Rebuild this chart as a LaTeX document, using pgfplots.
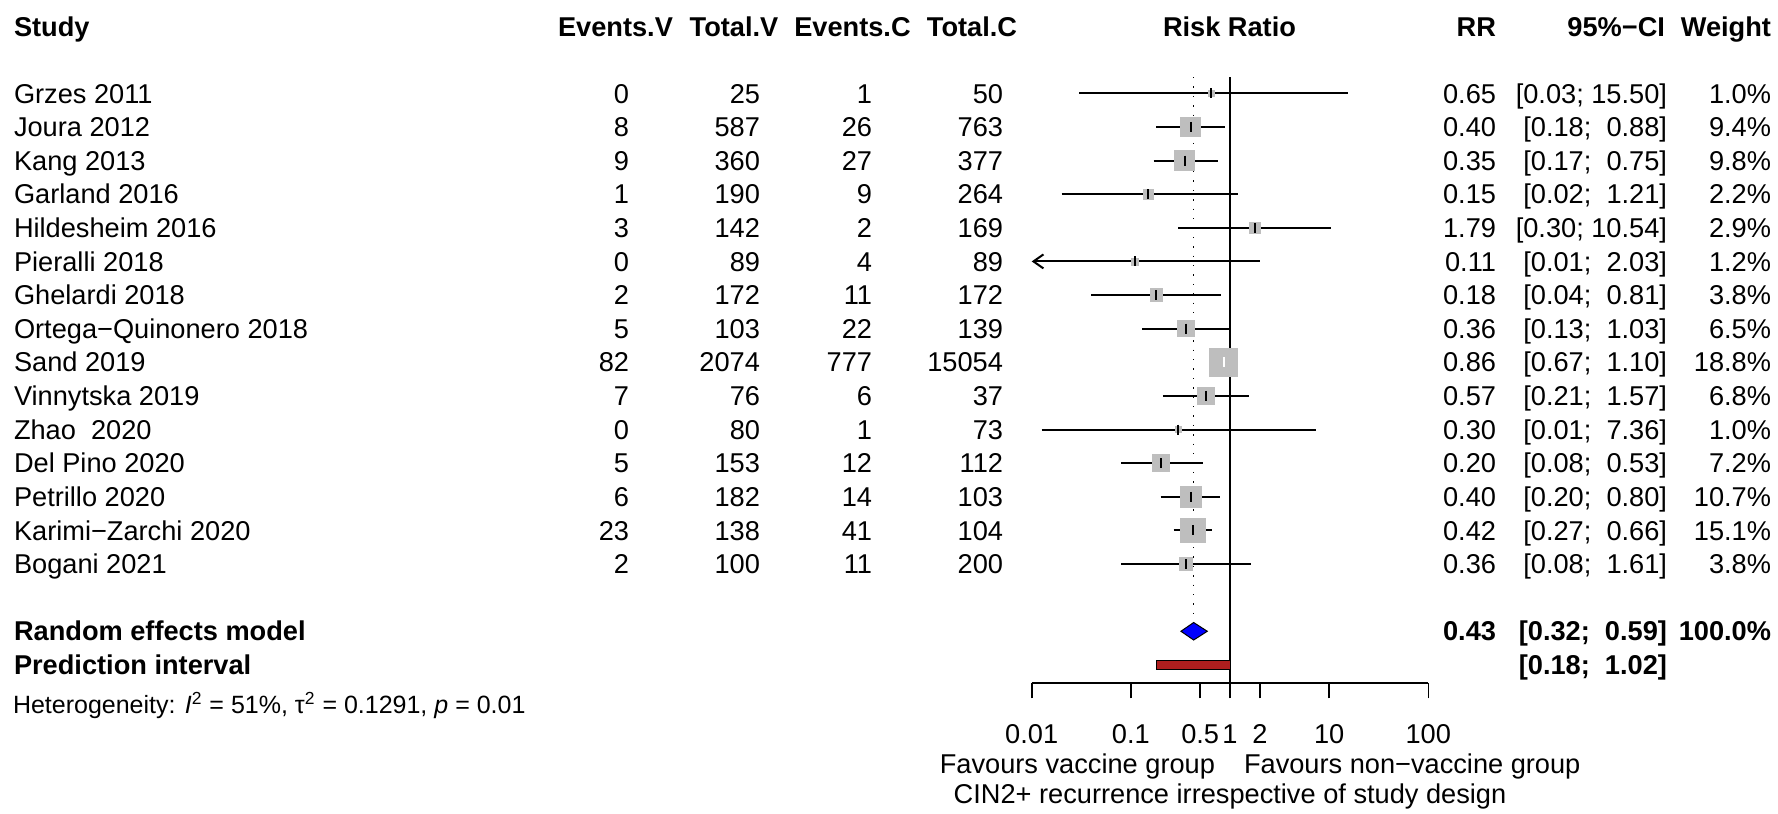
\documentclass[border=0pt]{standalone}
\usepackage{pgfplots}
\pgfplotsset{compat=1.18}
\usepackage{pgfplotstable}
\usepackage{fontspec}
\setmainfont{Liberation Sans}
\usetikzlibrary{arrows.meta}
\definecolor{sqgray}{HTML}{BEBEBE}
\definecolor{predred}{RGB}{175,30,30}

% study index, risk ratio, weight (%)
\pgfplotstableread{
i rr w
1 0.65 1.0
2 0.40 9.4
3 0.35 9.8
4 0.15 2.2
5 1.79 2.9
6 0.11 1.2
7 0.18 3.8
8 0.36 6.5
9 0.86 18.8
10 0.57 6.8
11 0.30 1.0
12 0.20 7.2
13 0.40 10.7
14 0.42 15.1
15 0.36 3.8
}\studies

\newcommand\rowfont{\fontsize{13.6pt}{16pt}\selectfont}
\newcommand\studyrow[9]{%
  \pgfmathsetmacro\yb{69.38+33.62*#1}%
  \node[anchor=base west] at (14,\yb) {#2};
  \node[anchor=base east] at (629,\yb) {#3};
  \node[anchor=base east] at (760,\yb) {#4};
  \node[anchor=base east] at (872,\yb) {#5};
  \node[anchor=base east] at (1003,\yb) {#6};
  \node[anchor=base east] at (1496,\yb) {#7};
  \node[anchor=base east] at (1667,\yb) {#8};
  \node[anchor=base east] at (1771,\yb) {#9};
}

\begin{document}
\begin{tikzpicture}
\begin{scope}[x=0.5pt,y=-0.5pt,every node/.style={font=\rowfont,inner sep=0pt,outer sep=0pt}]
  \path[use as bounding box] (0,0) rectangle (1778,814);
  % headers
  \begin{scope}[every node/.append style={font=\rowfont\bfseries}]
    \node[anchor=base west] at (14,36) {Study};
    \node[anchor=base] at (615.5,36) {Events.V};
    \node[anchor=base] at (734,36) {Total.V};
    \node[anchor=base] at (852.5,36) {Events.C};
    \node[anchor=base] at (972,36) {Total.C};
    \node[anchor=base] at (1229.5,36) {Risk Ratio};
    \node[anchor=base east] at (1496,36) {RR};
    \node[anchor=base east] at (1665,36) {95\%−CI};
    \node[anchor=base east] at (1771,36) {Weight};
  \end{scope}
  \studyrow{1}{Grzes 2011}{0}{25}{1}{50}{0.65}{[0.03; 15.50]}{1.0\%}
  \studyrow{2}{Joura 2012}{8}{587}{26}{763}{0.40}{[0.18; \ 0.88]}{9.4\%}
  \studyrow{3}{Kang 2013}{9}{360}{27}{377}{0.35}{[0.17; \ 0.75]}{9.8\%}
  \studyrow{4}{Garland 2016}{1}{190}{9}{264}{0.15}{[0.02; \ 1.21]}{2.2\%}
  \studyrow{5}{Hildesheim 2016}{3}{142}{2}{169}{1.79}{[0.30; 10.54]}{2.9\%}
  \studyrow{6}{Pieralli 2018}{0}{89}{4}{89}{0.11}{[0.01; \ 2.03]}{1.2\%}
  \studyrow{7}{Ghelardi 2018}{2}{172}{11}{172}{0.18}{[0.04; \ 0.81]}{3.8\%}
  \studyrow{8}{Ortega−Quinonero 2018}{5}{103}{22}{139}{0.36}{[0.13; \ 1.03]}{6.5\%}
  \studyrow{9}{Sand 2019}{82}{2074}{777}{15054}{0.86}{[0.67; \ 1.10]}{18.8\%}
  \studyrow{10}{Vinnytska 2019}{7}{76}{6}{37}{0.57}{[0.21; \ 1.57]}{6.8\%}
  \studyrow{11}{Zhao\ \ 2020}{0}{80}{1}{73}{0.30}{[0.01; \ 7.36]}{1.0\%}
  \studyrow{12}{Del Pino 2020}{5}{153}{12}{112}{0.20}{[0.08; \ 0.53]}{7.2\%}
  \studyrow{13}{Petrillo 2020}{6}{182}{14}{103}{0.40}{[0.20; \ 0.80]}{10.7\%}
  \studyrow{14}{Karimi−Zarchi 2020}{23}{138}{41}{104}{0.42}{[0.27; \ 0.66]}{15.1\%}
  \studyrow{15}{Bogani 2021}{2}{100}{11}{200}{0.36}{[0.08; \ 1.61]}{3.8\%}
  % summary
  \begin{scope}[every node/.append style={font=\rowfont\bfseries}]
    \node[anchor=base west] at (14,640.9) {Random effects model};
    \node[anchor=base west] at (14,674.5) {Prediction interval};
    \node[anchor=base east] at (1496,640.9) {0.43};
    \node[anchor=base east] at (1667,640.9) {[0.32; \ 0.59]};
    \node[anchor=base east] at (1771,640.9) {100.0\%};
    \node[anchor=base east] at (1667,674.5) {[0.18; \ 1.02]};
  \end{scope}
  \node[anchor=base west,font=\fontsize{12.5pt}{14pt}\selectfont] at (13,713)
    {Heterogeneity: \textit{I}\textsuperscript{2} = 51\%, τ\textsuperscript{2} = 0.1291, \textit{p} = 0.01};
  \node[anchor=base east] at (1215,773.5) {Favours vaccine group};
  \node[anchor=base west] at (1244,773.5) {Favours non−vaccine group};
  \node[anchor=base] at (1230,803.5) {CIN2+ recurrence irrespective of study design};
\end{scope}

\begin{axis}[
  at={(515.85pt,-341.35pt)}, anchor=south west,
  scale only axis, width=198.3pt, height=302.85pt,
  xmode=log, xmin=0.01, xmax=100, ymin=-18.53, ymax=-0.515,
  axis y line=none, axis x line*=bottom,
  x axis line style={-, line width=0.8pt, black},
  xtick={0.01,0.1,0.5,1,2,10,100},
  xticklabels={0.01,0.1,0.5,1,2,10,100},
  xminorticks=false,
  tick align=outside, major tick length=7.85pt,
  every tick/.style={black, line width=0.8pt},
  xticklabel style={font=\rowfont, anchor=base, inner sep=0pt, yshift=-22.5pt},
  clip=false,
]
  % reference lines
  \addplot[black, line width=0.8pt] coordinates {(1,-0.515) (1,-18.53)};
  \addplot[black, line width=0.7pt, dash pattern=on 0.7pt off 4pt] coordinates {(0.43,-0.515) (0.43,-16.74)};
  % squares (area proportional to weight)
  \addplot[scatter, only marks, mark=square*,
    scatter/use mapped color={draw=sqgray, fill=sqgray},
    visualization depends on={1.6*sqrt(\thisrow{w}) \as \msz},
    scatter/@pre marker code/.append style={/tikz/mark size=\msz}]
    table[x=rr, y expr=-\thisrow{i}] {\studies};
  % confidence intervals
  \addplot[black, line width=1pt] coordinates {(0.03,-1) (15.50,-1)};
  \addplot[black, line width=1pt] coordinates {(0.18,-2) (0.88,-2)};
  \addplot[black, line width=1pt] coordinates {(0.17,-3) (0.75,-3)};
  \addplot[black, line width=1pt] coordinates {(0.02,-4) (1.21,-4)};
  \addplot[black, line width=1pt] coordinates {(0.30,-5) (10.54,-5)};
  \addplot[black, line width=1pt, arrows={Straight Barb[length=5pt,width=7pt]-}] coordinates {(0.01,-6) (2.03,-6)};
  \addplot[black, line width=1pt] coordinates {(0.04,-7) (0.81,-7)};
  \addplot[black, line width=1pt] coordinates {(0.13,-8) (1.03,-8)};
  \addplot[white, line width=1pt] coordinates {(0.67,-9) (1.10,-9)};
  \addplot[black, line width=1pt] coordinates {(0.21,-10) (1.57,-10)};
  \addplot[black, line width=1pt] coordinates {(0.0126,-11) (7.36,-11)};
  \addplot[black, line width=1pt] coordinates {(0.08,-12) (0.53,-12)};
  \addplot[black, line width=1pt] coordinates {(0.20,-13) (0.80,-13)};
  \addplot[black, line width=1pt] coordinates {(0.27,-14) (0.66,-14)};
  \addplot[black, line width=1pt] coordinates {(0.08,-15) (1.61,-15)};
  % point estimates
  \addplot[only marks, mark=|, mark size=2.5pt, mark options={black, line width=1pt}]
    table[x=rr, y expr=-\thisrow{i}] {\studies};
  \addplot[only marks, mark=|, mark size=2.5pt, mark options={white, line width=1pt}] coordinates {(0.86,-9)};
  % pooled estimate and prediction interval
  \addplot[fill=blue, draw=black, line width=0.5pt] coordinates {(0.32,-17) (0.43,-16.74) (0.59,-17) (0.43,-17.26)} -- cycle;
  \addplot[fill=predred, draw=black, line width=0.4pt] coordinates {(0.18,-17.87) (1.02,-17.87) (1.02,-18.13) (0.18,-18.13)} -- cycle;
\end{axis}
\end{tikzpicture}
\end{document}
